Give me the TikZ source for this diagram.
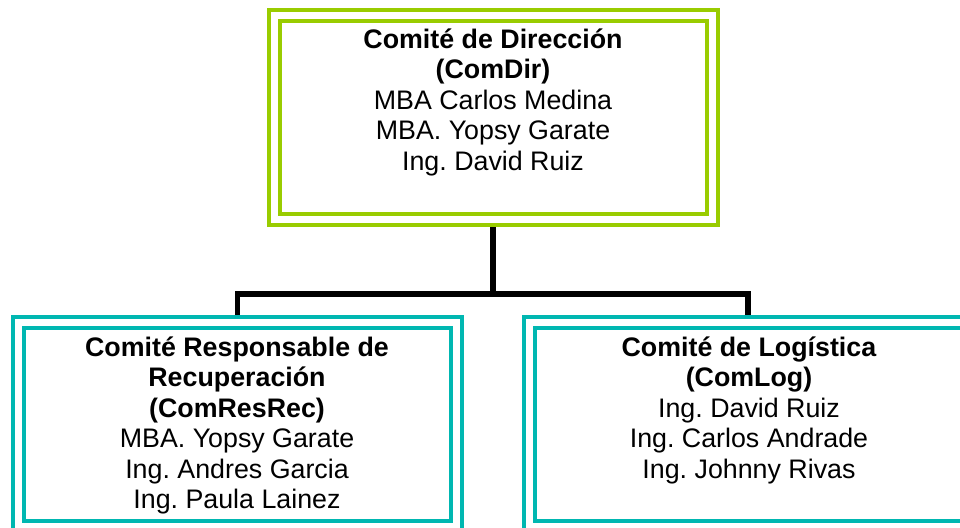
\documentclass[tikz,border=0pt]{standalone}
\usepackage{fontspec}
\setmainfont{Liberation Sans}
\frenchspacing
\definecolor{cgreen}{HTML}{99CC00}
\definecolor{cteal}{HTML}{00B7B1}
\begin{document}
\begin{tikzpicture}[x=1pt,y=-1pt,
  box/.style={rectangle, draw=#1, double=white, double distance=7pt, line width=4pt,
    minimum width=438pt, minimum height=204pt, inner sep=0pt, outer sep=7.5pt},
  txt/.style={align=center, anchor=base, inner sep=0pt, font=\fontsize{26.8}{30.5}\selectfont\frenchspacing},
  link/.style={draw=black, line width=5.5pt, line join=miter}]
\fill[white] (0,0) rectangle (960,527);
\useasboundingbox (0,0) rectangle (960,527);
\node[box=cgreen] (dir) at (493,117.5) {};
\node[box=cteal] (res) at (237.25,424) {};
\node[box=cteal] (log) at (748,424) {};
\node[txt] (dirt) at (493,170) {\textbf{Comité de Dirección}\\\textbf{(ComDir)}\\MBA Carlos Medina\\MBA. Yopsy Garate\\Ing. David Ruiz};
\node[txt] (rest) at (237,508.5) {\textbf{Comité Responsable de}\\\textbf{Recuperación}\\\textbf{(ComResRec)}\\MBA. Yopsy Garate\\Ing. Andres Garcia\\Ing. Paula Lainez};
\node[txt] (logt) at (749,478) {\textbf{Comité de Logística}\\\textbf{(ComLog)}\\Ing. David Ruiz\\Ing. Carlos Andrade\\Ing. Johnny Rivas};
\coordinate (j) at (493,294);
\draw[link] (dir.south) -- (j);
\draw[link] (res.north) |- (j) -| (log.north);
\end{tikzpicture}
\end{document}
